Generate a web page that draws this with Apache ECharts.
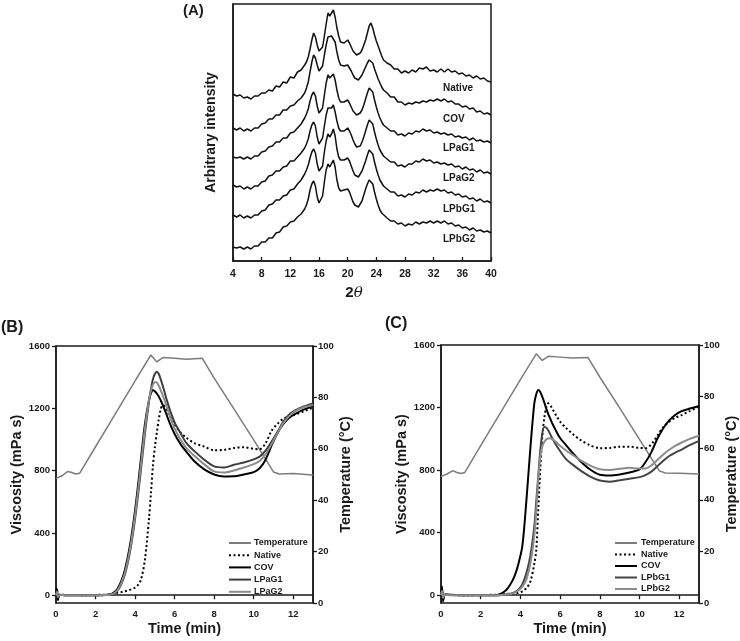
<!DOCTYPE html>
<html><head><meta charset="utf-8">
<script src="https://cdn.jsdelivr.net/npm/echarts@6/dist/echarts.min.js"></script>
<style>html,body{margin:0;padding:0;background:#fff}#c{width:740px;height:641px}</style>
</head><body><div id="c"></div>
<script>
// ---------- Panel A: XRD ----------
const twoTheta = [4,4.5,5,5.5,6,6.5,7,7.5,8,8.5,9,9.5,10,10.5,11,11.5,12,12.5,13,
13.25,13.5,13.75,14,14.25,14.5,14.75,15,15.25,15.5,15.75,16,16.25,16.5,16.75,17,17.25,17.5,17.75,18,18.25,18.5,18.75,19,19.25,19.5,19.75,20,20.25,20.5,20.75,21,21.25,21.5,21.75,22,22.25,22.5,22.75,23,23.25,23.5,23.75,24,24.25,24.5,24.75,25,
25.5,26,26.5,27,27.5,28,28.5,29,29.5,30,30.5,31,31.5,32,32.5,33,33.5,34,34.5,35,35.5,36,36.5,37,37.5,38,38.5,39,39.5,40];
const xrdNative = [167,165,166,163,164,162,165,165,168,168,171,170,175,174,179,178,184,183,189,
189,191,193,196,199,204,212,221,228,224,216,210,208,214,225,237,248,245,247,251,244,233,225,219,217,218,220,221,218,214,210,208,206,206,208,211,216,221,228,235,238,233,226,220,215,210,205,201,
198,196,192,192,188,190,188,191,189,193,192,194,190,191,189,192,189,192,189,190,187,188,185,186,183,185,182,183,180,179];
const xrdCOV = [133,131,133,130,132,130,133,133,137,138,142,142,146,146,151,151,155,156,160,
161,163,165,168,173,179,189,199,206,203,196,190,189,195,206,216,224,222,225,225,219,209,201,196,194,195,196,196,193,190,186,183,181,181,183,186,190,194,198,201,202,198,192,187,182,178,174,171,
168,164,164,159,159,156,158,157,159,158,160,159,161,160,162,160,162,159,160,157,157,154,155,152,153,149,150,147,148,146];
const xrdLPaG1 = [104,103,104,102,104,102,105,105,109,110,114,115,119,119,123,123,128,129,133,
135,137,140,143,147,152,160,166,169,165,155,148,146,153,166,178,186,183,184,187,181,171,163,159,158,159,161,161,158,154,150,148,146,146,148,151,156,162,168,173,174,169,161,154,148,143,139,136,
133,130,130,126,127,125,128,127,130,129,132,130,131,128,129,127,128,126,127,124,125,123,124,121,123,120,121,119,120,118];
const xrdLPaG2 = [76,74,75,72,74,72,75,75,79,80,85,86,90,90,94,95,100,100,104,
106,108,110,113,117,122,130,136,139,135,124,117,116,123,135,146,153,151,153,156,149,140,133,130,129,130,132,133,130,126,121,117,114,113,115,119,124,130,136,141,142,137,129,122,116,111,108,105,
102,99,99,95,96,94,97,97,100,99,102,100,101,98,99,97,98,96,97,94,95,92,94,91,92,89,91,88,89,87];
const xrdLPbG1 = [46,44,46,43,45,43,46,46,50,51,56,57,61,61,65,66,71,72,77,
79,81,84,87,91,96,103,109,112,108,97,90,88,95,109,120,127,124,127,132,125,112,104,101,100,101,103,103,100,95,90,86,84,84,86,90,95,100,106,111,112,107,99,92,86,81,78,75,
72,69,69,65,66,64,67,66,69,68,71,69,71,70,72,70,71,68,69,66,67,64,65,62,63,60,62,59,60,58];
const xrdLPbG2 = [14,13,14,12,14,12,15,15,19,19,23,23,28,29,34,35,39,40,44,
45,47,49,52,56,62,71,77,80,75,64,58,57,65,79,91,97,94,96,101,94,81,73,70,70,71,72,72,69,64,59,56,54,54,56,60,66,72,77,81,82,77,69,62,56,51,48,46,
43,40,40,37,38,35,37,36,39,37,39,38,40,38,40,38,40,37,38,35,36,33,34,31,33,30,31,29,30,28];
const xrdNames = ['Native','COV','LPaG1','LPaG2','LPbG1','LPbG2'];

// ---------- Panels B & C: viscosity / temperature ----------
const time = [0,0.05,0.1,0.2,0.5,1,1.5,2,2.5,2.7,2.9,3.1,3.3,3.5,3.7,3.9,4.1,4.3,4.5,4.7,4.8,4.9,5.0,5.1,5.2,5.3,5.4,5.5,5.6,5.8,6.0,6.3,6.6,7.0,7.5,8.0,8.5,9.0,9.5,10.0,10.3,10.6,10.9,11.2,11.5,11.8,12.1,12.5,13.0];
const nativeB = [0,45,-30,4,2, 1,0,2,3,5, 10,15,20,26,33, 42,58,100,230,486, 650,827,950,1045,1130, 1195,1221,1212,1190,1140, 1095,1045,1010,976,954, 930,933,945,950,940, 937,975,1055,1100,1133, 1148,1160,1178,1205];
const covB = [0,35,-25,3,0, 0,0,0,2,4, 15,40,90,170,290, 450,650,880,1100,1250, 1295,1318,1310,1295,1275, 1250,1220,1190,1157,1090, 1035,970,920,860,808, 775,762,763,775,790, 815,870,960,1040,1100, 1140,1165,1190,1214];
const lpag1B = [0,25,-15,2,0, 0,0,0,1,3, 8,28,70,140,250, 400,590,810,1040,1240, 1320,1385,1420,1434,1420, 1385,1345,1300,1255,1175, 1110,1040,976,925,870, 827,820,837,852,872, 890,928,985,1048,1115, 1160,1186,1210,1231];
const lpag2B = [0,20,-10,2,0, 0,0,0,1,3, 10,32,78,150,265, 420,615,840,1070,1250, 1310,1350,1368,1365,1345, 1315,1282,1250,1210,1135, 1070,1000,944,895,840, 795,788,801,820,842, 862,905,970,1040,1105, 1150,1182,1205,1221];
const nativeC = [0,40,-30,3,1, 0,0,1,2,2, 4,6,8,10,12, 15,25,45,85,200, 290,550,800,1010,1130, 1200,1227,1215,1195,1150, 1110,1070,1035,995,960, 940,942,950,950,942, 940,965,1020,1075,1110, 1135,1150,1175,1205];
const covC = [0,55,-40,5,2, 0,0,0,0,0, 3,15,35,70,120, 200,315,600,935,1225, 1285,1312,1300,1270,1235, 1195,1160,1130,1100,1050, 1005,960,915,860,805, 770,765,772,785,805, 850,915,1000,1068,1118, 1152,1175,1192,1210];
const lpbg1C = [0,30,-20,3,1, 0,0,0,0,0, 0,3,6,10,18, 35,70,140,250,440, 600,760,920,1030,1075, 1072,1055,1030,1005,960, 922,870,838,800,760, 733,726,735,745,755, 768,790,825,860,890, 912,930,958,985];
const lpbg2C = [0,25,-15,2,0, 0,0,0,0,0, 0,2,5,8,15, 30,55,100,200,380, 540,740,880,950,980, 995,1002,1003,998,980, 955,925,900,865,830, 805,800,808,815,810, 810,830,865,900,930, 955,975,998,1020];
const tempTime = [0,0.3,0.6,0.8,1.0,1.2,2.0,3.0,4.0,4.8,5.1,5.4,6.0,6.6,7.0,7.4,8.0,9.0,10.0,11.0,11.3,12.0,13.0];
const tempB = [48.5,49.5,51.2,50.8,50.2,50.5,60.8,73.6,86.4,96.5,93.8,95.5,95.2,94.8,95.0,95.2,87.5,75.5,63.5,51.0,50.2,50.4,49.8];
const tempC = [49.0,50.0,51.3,50.6,50.2,50.6,61.0,73.8,86.6,96.6,94.0,95.6,95.3,95.0,95.1,95.2,87.6,75.6,63.4,51.2,50.4,50.3,50.0];
const timeTicks = [0,2,4,6,8,10,12];
const viscTicks = [0,400,800,1200,1600];
const legendB = ['Temperature','Native','COV','LPaG1','LPaG2'];
const legendC = ['Temperature','Native','COV','LPbG1','LPbG2'];

// ---------- build ----------
const FF = '"Liberation Sans", Arial, Helvetica, sans-serif';
const INK = '#1a1a1a';
const pair = (xs, ys) => xs.map((x, i) => [x, ys[i]]);
const plain = v => String(v);
const lbl = (size, extra) => Object.assign({fontSize: size, fontWeight: 'bold', color: INK, fontFamily: FF}, extra || {});
const axLine = {show: true, lineStyle: {color: INK, width: 1.5}};

const chart = echarts.init(document.getElementById('c'), null, {renderer: 'canvas'});

const xrdData = [xrdNative, xrdCOV, xrdLPaG1, xrdLPaG2, xrdLPbG1, xrdLPbG2];
const series = [];
xrdData.forEach((arr, i) => series.push({
  name: 'xrd-' + xrdNames[i], type: 'line', xAxisIndex: 0, yAxisIndex: 0,
  data: pair(twoTheta, arr), symbol: 'none', silent: true,
  lineStyle: {color: '#111', width: 1.5}
}));

function viscSeries(name, xi, yi, data, color, width, type) {
  return {name, type: 'line', xAxisIndex: xi, yAxisIndex: yi, data: pair(time, data),
    symbol: 'none', smooth: 0.3, silent: true,
    itemStyle: {color}, lineStyle: {color, width, type: type || 'solid'}};
}
function tempSeries(xi, yi, data) {
  return {name: 'Temperature', type: 'line', xAxisIndex: xi, yAxisIndex: yi, data: pair(tempTime, data),
    symbol: 'none', silent: true, itemStyle: {color: '#7c7c7c'}, lineStyle: {color: '#7c7c7c', width: 1.5}};
}
series.push(tempSeries(1, 2, tempB));
series.push(viscSeries('Native', 1, 1, nativeB, '#000', 2, [2, 2.5]));
series.push(viscSeries('COV', 1, 1, covB, '#000', 2));
series.push(viscSeries('LPaG1', 1, 1, lpag1B, '#3d3d3d', 2));
series.push(viscSeries('LPaG2', 1, 1, lpag2B, '#8a8a8a', 2));
series.push(tempSeries(2, 4, tempC));
series.push(viscSeries('Native', 2, 3, nativeC, '#000', 2, [2, 2.5]));
series.push(viscSeries('COV', 2, 3, covC, '#000', 2));
series.push(viscSeries('LPbG1', 2, 3, lpbg1C, '#444', 2));
series.push(viscSeries('LPbG2', 2, 3, lpbg2C, '#8c8c8c', 2));

const gridBase = {show: true, borderColor: INK, borderWidth: 1.5, containLabel: false};

function timeAxis(gi) {
  return {gridIndex: gi, type: 'value', min: 0, max: 13,
    axisLine: axLine,
    axisTick: {show: true, length: 4, customValues: timeTicks, lineStyle: {color: INK, width: 1.3}},
    axisLabel: lbl(9.5, {margin: 6, customValues: timeTicks, formatter: plain}),
    splitLine: {show: false},
    name: 'Time (min)', nameLocation: 'middle', nameGap: 18, nameTextStyle: lbl(14.5)};
}
function viscAxis(gi, gap) {
  return {gridIndex: gi, type: 'value', min: -50, max: 1600, position: 'left',
    axisLine: axLine,
    axisTick: {show: true, length: 4, customValues: viscTicks, lineStyle: {color: INK, width: 1.3}},
    axisLabel: lbl(9.5, {margin: 6, customValues: viscTicks, formatter: plain}),
    splitLine: {show: false},
    name: 'Viscosity (mPa s)', nameLocation: 'middle', nameGap: gap, nameTextStyle: lbl(14.5)};
}
function tempAxis(gi, gap) {
  return {gridIndex: gi, type: 'value', min: 0, max: 100, interval: 20, position: 'right',
    axisLine: axLine,
    axisTick: {show: true, length: 4, lineStyle: {color: INK, width: 1.3}},
    axisLabel: lbl(9.5, {margin: 5, formatter: plain}),
    splitLine: {show: false},
    name: 'Temperature (°C)', nameLocation: 'middle', nameGap: gap, nameTextStyle: lbl(14.5)};
}

const graphics = [
  {type: 'text', left: 183, top: 3, style: {text: '(A)', font: 'bold 15px ' + FF, fill: INK}},
  {type: 'text', left: 1, top: 320, style: {text: '(B)', font: 'bold 16px ' + FF, fill: INK}},
  {type: 'text', left: 385, top: 316, style: {text: '(C)', font: 'bold 16px ' + FF, fill: INK}},
  {type: 'text', x: 354, y: 293, style: {text: '{a|2}{b|θ}', align: 'center', verticalAlign: 'middle',
    rich: {a: {font: 'bold 15px ' + FF, fill: INK}, b: {font: 'italic 15px "DejaVu Serif", serif', fill: INK}}}}
];
const xrdLabelY = [88, 119, 148, 178, 209, 239];
xrdNames.forEach((n, i) => graphics.push({type: 'text', x: 443, y: xrdLabelY[i],
  style: {text: n, font: 'bold 10px ' + FF, fill: INK, verticalAlign: 'middle'}}));

const legendCommon = {orient: 'vertical', itemWidth: 22, itemHeight: 8, selectedMode: false,
  itemStyle: {opacity: 0, borderWidth: 0}};
const option = {
  animation: false,
  backgroundColor: '#fff',
  grid: [
    Object.assign({left: 233, top: 4, width: 258, height: 257}, gridBase),
    Object.assign({left: 56, top: 346, width: 257, height: 257}, gridBase),
    Object.assign({left: 441, top: 345, width: 258, height: 258}, gridBase)
  ],
  xAxis: [
    {gridIndex: 0, type: 'value', min: 4, max: 40, interval: 4,
      axisLine: axLine,
      axisTick: {show: true, inside: true, length: 4, lineStyle: {color: INK, width: 1.3}},
      axisLabel: lbl(10.5, {margin: 8, formatter: plain}),
      splitLine: {show: false}},
    timeAxis(1), timeAxis(2)
  ],
  yAxis: [
    {gridIndex: 0, type: 'value', min: 0, max: 257,
      axisLine: axLine, axisTick: {show: false}, axisLabel: {show: false}, splitLine: {show: false},
      name: 'Arbitrary intensity', nameLocation: 'middle', nameGap: 15, nameTextStyle: lbl(14)},
    viscAxis(1, 31), tempAxis(1, 25), viscAxis(2, 31), tempAxis(2, 25)
  ],
  legend: [
    Object.assign({data: legendB, left: 223, top: 533, itemGap: 2.2,
      textStyle: lbl(9, {lineHeight: 10, padding: [0, 0, 0, -2]})}, legendCommon),
    Object.assign({data: legendC, left: 609, top: 533, itemGap: 1.5,
      textStyle: lbl(9, {lineHeight: 10, padding: [0, 0, 0, -1]})}, legendCommon)
  ],
  graphic: graphics,
  series: series
};
chart.setOption(option);
</script>
</body></html>
